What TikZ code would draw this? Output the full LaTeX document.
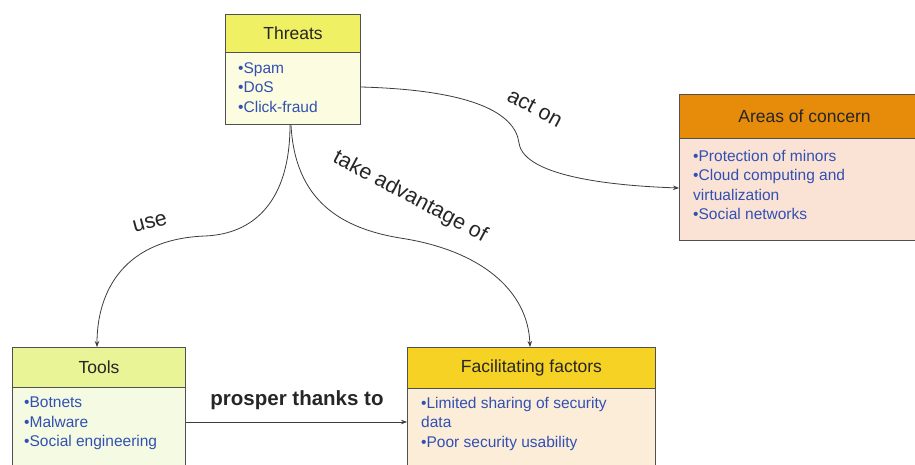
\documentclass[tikz,border=0pt]{standalone}
\usepackage{fontspec}
\setmainfont{Liberation Sans}
\usetikzlibrary{arrows.meta}
\definecolor{boxline}{RGB}{80,80,80}
\definecolor{bluetext}{RGB}{50,80,180}
\definecolor{thrH}{RGB}{240,240,100}
\definecolor{thrB}{RGB}{252,252,224}
\definecolor{areH}{RGB}{230,140,10}
\definecolor{areB}{RGB}{250,226,212}
\definecolor{tooH}{RGB}{232,244,150}
\definecolor{tooB}{RGB}{245,250,226}
\definecolor{facH}{RGB}{245,210,35}
\definecolor{facB}{RGB}{252,237,216}
\definecolor{conn}{RGB}{60,60,60}
\tikzset{
  hdr/.style={draw=boxline, line width=1pt, anchor=north west, inner sep=0pt,
    font=\fontsize{17.5}{20}\selectfont, text=black!85},
  bodybox/.style={draw=boxline, line width=1pt, anchor=north west, inner sep=0pt},
  btext/.style={anchor=north west, align=left, inner sep=0pt,
    font=\fontsize{15.5}{19.5}\selectfont, text=bluetext},
  conline/.style={draw=conn, line width=0.8pt, -{Stealth[length=6pt,width=4.5pt]}},
  lbl/.style={font=\fontsize{21.5}{24}\selectfont, text=black!85, inner sep=0pt}
}
\begin{document}
\begin{tikzpicture}[x=1pt,y=-1pt]
\useasboundingbox (0,0) rectangle (915,465);
\clip (0,0) rectangle (915,465);
\fill[white] (0,0) rectangle (915,465);
% Threats
\node[hdr, fill=thrH, minimum width=135pt, minimum height=38pt] (thrh) at (225,14) {Threats};
\node[bodybox, fill=thrB, minimum width=135pt, minimum height=72pt] (thr) at (225,52) {};
\node[btext] (thrt) at (238,62) {•Spam\\•DoS\\•Click-fraud};
% Areas of concern
\node[hdr, fill=areH, minimum width=250pt, minimum height=44pt] (areh) at (679,94) {Areas of concern};
\node[bodybox, fill=areB, minimum width=250pt, minimum height=102pt] (are) at (679,138) {};
\node[btext] (aret) at (693,150) {•Protection of minors\\•Cloud computing and\\virtualization\\•Social networks};
% Tools
\node[hdr, fill=tooH, minimum width=173pt, minimum height=40pt] (tooh) at (12,347) {Tools};
\node[bodybox, fill=tooB, minimum width=173pt, minimum height=100pt] (too) at (12,387) {};
\node[btext] (toot) at (24,397) {•Botnets\\•Malware\\•Social engineering};
% Facilitating factors
\node[hdr, fill=facH, minimum width=248pt, minimum height=41pt] (fach) at (407,347) {Facilitating factors};
\node[bodybox, fill=facB, minimum width=248pt, minimum height=100pt] (fac) at (407,388) {};
\node[btext] (fact) at (421,397) {•Limited sharing of security\\data\\•Poor security usability};
% connectors
\draw[conline] (thr.south -| 290,0) .. controls (290,200) and (255,234) .. (205,236)
  .. controls (125,239) and (97,290) .. (tooh.north -| 97,0);
\draw[conline] (thr.south -| 291,0) .. controls (295,200) and (340,228) .. (400,238)
  .. controls (480,250) and (528,290) .. (fach.north -| 530,0);
\draw[conline] (thr.east |- 0,87) .. controls (470,90) and (515,112) .. (519,143)
  .. controls (524,178) and (620,186) .. (are.west |- 0,188);
\draw[conline] (too.east |- 0,422) -- (fac.west |- 0,422);
% labels
\node[lbl, rotate=15] (luse) at (150,223) {use};
\node[lbl, rotate=-28] (ltake) at (410,197) {take advantage of};
\node[lbl, rotate=-28] (lact) at (535,108) {act on};
\node[lbl, font=\fontsize{20.5}{23}\selectfont\bfseries] (lpro) at (297,400) {prosper thanks to};
\end{tikzpicture}
\end{document}
